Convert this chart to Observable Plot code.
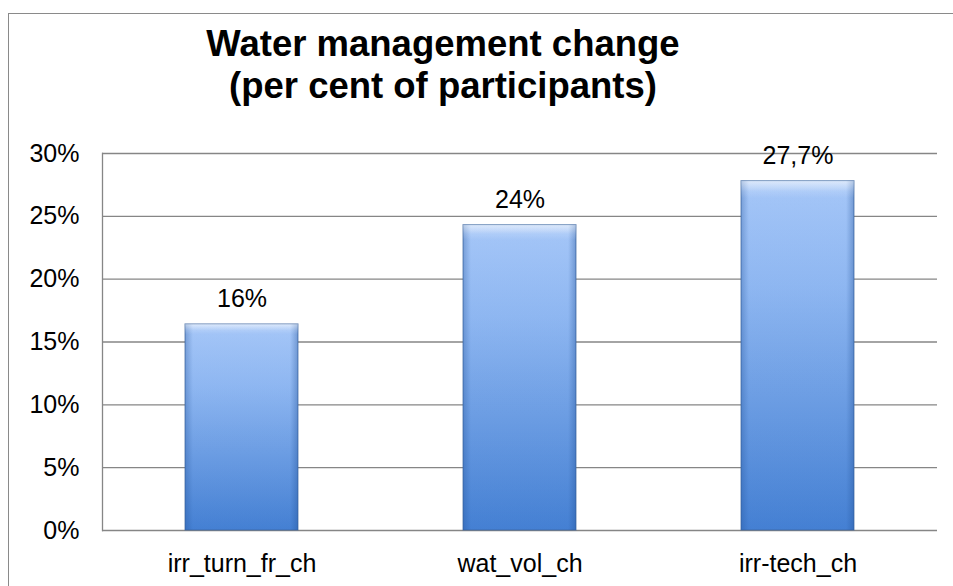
<!DOCTYPE html>
<html>
<head>
<meta charset="utf-8">
<script src="https://cdn.jsdelivr.net/npm/d3@7"></script>
<script src="https://cdn.jsdelivr.net/npm/@observablehq/plot@0.6"></script>
<style>
  html, body { margin: 0; padding: 0; background: #fff; overflow: hidden; }
  #wrap { position: relative; width: 953px; height: 586px; overflow: hidden; font-family: "Liberation Sans", Arial, sans-serif; }
  #border { position: absolute; left: 8px; top: 13px; width: 1000px; height: 700px;
            border-left: 1.5px solid #8a8a8a; border-top: 1.5px solid #8a8a8a; box-sizing: border-box; }
  #title { position: absolute; left: 0; width: 886px; top: 23px; text-align: center;
           font-weight: bold; font-size: 36.5px; line-height: 42px; color: #000; white-space: nowrap; }
  #chart { position: absolute; left: 0; top: 0; }
</style>
</head>
<body>
<div id="wrap">
  <div id="border"></div>
  <div id="title">Water management change<br>(per cent of participants)</div>
  <div id="chart"></div>
</div>
<script>
const categories = ["irr_turn_fr_ch", "wat_vol_ch", "irr-tech_ch"];
const values = [16.4, 24.3, 27.8];
const valueLabels = ["16%", "24%", "27,7%"];
const yTicks = [0, 5, 10, 15, 20, 25, 30];

const data = categories.map((c, i) => ({cat: c, value: values[i], label: valueLabels[i]}));

const chart = Plot.plot({
  width: 953,
  height: 586,
  marginLeft: 102,
  marginRight: 16,
  marginTop: 153,
  marginBottom: 56,
  style: {fontFamily: "'Liberation Sans', Arial, sans-serif", fontSize: "25px", color: "#000", background: "transparent"},
  x: {domain: categories, paddingInner: 0.594, paddingOuter: 0.297, label: null},
  y: {domain: [0, 30], label: null},
  marks: [
    Plot.ruleY(yTicks, {stroke: "#868686", strokeWidth: 1.3}),
    Plot.frame({anchor: "left", stroke: "#868686", strokeWidth: 1.3}),
    Plot.barY(data, {x: "cat", y: "value", fill: "url(#barGrad)", stroke: "#3f679f", strokeWidth: 1, strokeOpacity: 0.75}),
    Plot.barY(data, {x: "cat", y: "value", fill: "url(#sideGrad)"}),
    Plot.barY(data, {x: "cat", y: "value", fill: "url(#topGrad)"}),
    Plot.text(data, {x: "cat", y: "value", text: "label", dy: -17, lineAnchor: "bottom", fontSize: 25, fill: "#000"}),
    Plot.axisY(yTicks, {tickSize: 0, tickPadding: 23, tickFormat: d => d + "%", fontSize: 25, fill: "#000"}),
    Plot.axisX({tickSize: 0, tickPadding: 24, fontSize: 25, fill: "#000"})
  ]
});

const ns = "http://www.w3.org/2000/svg";
const defs = document.createElementNS(ns, "defs");
defs.innerHTML = `
  <linearGradient id="barGrad" x1="0" y1="0" x2="0" y2="1">
    <stop offset="0" stop-color="#d2e4fe"/>
    <stop offset="0.03" stop-color="#aacbfc"/>
    <stop offset="0.3" stop-color="#94bcf6"/>
    <stop offset="1" stop-color="#4682d6"/>
  </linearGradient>
  <linearGradient id="sideGrad" x1="0" y1="0" x2="1" y2="0">
    <stop offset="0" stop-color="#1f4f95" stop-opacity="0.35"/>
    <stop offset="0.07" stop-color="#1f4f95" stop-opacity="0.05"/>
    <stop offset="0.93" stop-color="#1f4f95" stop-opacity="0.05"/>
    <stop offset="1" stop-color="#1f4f95" stop-opacity="0.4"/>
  </linearGradient>
  <linearGradient id="topGrad" x1="0" y1="0" x2="0" y2="1">
    <stop offset="0" stop-color="#ffffff" stop-opacity="0.35"/>
    <stop offset="0.05" stop-color="#ffffff" stop-opacity="0"/>
    <stop offset="1" stop-color="#ffffff" stop-opacity="0"/>
  </linearGradient>`;
chart.insertBefore(defs, chart.firstChild);
document.getElementById("chart").appendChild(chart);
</script>
</body>
</html>
